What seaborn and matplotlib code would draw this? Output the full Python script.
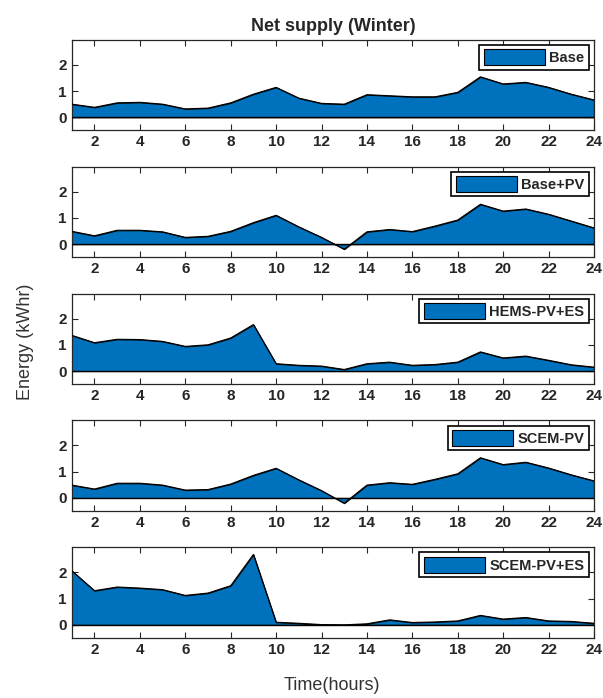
import numpy as np
import pandas as pd
import matplotlib
matplotlib.use("Agg")
import matplotlib.pyplot as plt
import seaborn as sns

# 時刻 (1..24h)
hours = list(range(1, 25))

# 各ケースの正味供給電力量 (kWhr), 図から読み取り
base = [0.50, 0.38, 0.55, 0.57, 0.50, 0.32, 0.35, 0.55, 0.88, 1.14, 0.73, 0.53,
        0.50, 0.86, 0.82, 0.78, 0.78, 0.95, 1.54, 1.27, 1.33, 1.14, 0.88, 0.66]
base_pv = [0.49, 0.32, 0.53, 0.53, 0.47, 0.26, 0.30, 0.49, 0.82, 1.10, 0.66, 0.26,
           -0.19, 0.47, 0.56, 0.48, 0.69, 0.92, 1.52, 1.26, 1.34, 1.14, 0.88, 0.62]
hems_pv_es = [1.36, 1.08, 1.21, 1.20, 1.13, 0.94, 1.00, 1.26, 1.77, 0.28, 0.22, 0.19,
              0.06, 0.28, 0.34, 0.22, 0.25, 0.34, 0.73, 0.50, 0.57, 0.41, 0.24, 0.15]
scem_pv = [0.49, 0.34, 0.56, 0.56, 0.49, 0.30, 0.32, 0.53, 0.86, 1.13, 0.69, 0.28,
           -0.20, 0.49, 0.58, 0.52, 0.71, 0.92, 1.53, 1.27, 1.36, 1.14, 0.88, 0.65]
scem_pv_es = [2.06, 1.30, 1.44, 1.40, 1.34, 1.12, 1.21, 1.49, 2.68, 0.10, 0.06, 0.01,
              0.00, 0.04, 0.19, 0.09, 0.11, 0.15, 0.36, 0.22, 0.28, 0.15, 0.13, 0.06]

cases = ["Base", "Base+PV", "HEMS-PV+ES", "SCEM-PV", "SCEM-PV+ES"]
series = [base, base_pv, hems_pv_es, scem_pv, scem_pv_es]

# long形式のDataFrame
df = pd.concat(
    [pd.DataFrame({"Hour": hours, "Energy": vals, "Case": name})
     for name, vals in zip(cases, series)],
    ignore_index=True,
)

sns.set_style("ticks")
plt.rcParams["font.family"] = ["Liberation Sans", "DejaVu Sans"]

fill_color = "#0072BD"

fig, axes = plt.subplots(5, 1, figsize=(6.03, 6.98), dpi=100)
fig.subplots_adjust(left=0.119, right=0.985, top=0.943, bottom=0.086, hspace=0.40)

for ax, name in zip(axes, cases):
    d = df[df["Case"] == name]
    ax.fill_between(d["Hour"], d["Energy"], 0, color=fill_color,
                    edgecolor="black", linewidth=0.8, label=name, zorder=2)
    sns.lineplot(data=d, x="Hour", y="Energy", color="black", linewidth=0.8,
                 ax=ax, legend=False, zorder=3)
    ax.axhline(0, color="black", linewidth=1.0, zorder=4)

    ax.set_xlim(1, 24)
    ax.set_ylim(-0.5, 2.95)
    ax.set_xticks(range(2, 25, 2))
    ax.set_yticks([0, 1, 2])
    ax.set_xlabel("")
    ax.set_ylabel("")
    ax.tick_params(direction="in", top=True, right=True, length=4, width=0.8,
                   colors="#262626", labelcolor="#262626")
    for lab in ax.get_xticklabels() + ax.get_yticklabels():
        lab.set_fontweight("bold")
        lab.set_fontsize(11)
    for sp in ax.spines.values():
        sp.set_visible(True)
        sp.set_linewidth(0.9)
        sp.set_color("#262626")

    leg = ax.legend(loc="upper right", handlelength=4.2, handleheight=1.3,
                    fancybox=False, frameon=True, borderpad=0.3,
                    borderaxespad=0.35, handletextpad=0.3,
                    prop={"weight": "bold", "size": 10.5})
    leg.get_frame().set_edgecolor("black")
    leg.get_frame().set_linewidth(1.2)
    leg.get_frame().set_alpha(1)

axes[0].set_title("Net supply (Winter)", fontsize=13, fontweight="bold", pad=6)
fig.text(0.042, 0.51, "Energy (kWhr)", rotation=90, ha="center", va="center",
         fontsize=13, color="#333333")
fig.text(0.55, 0.018, "Time(hours)", ha="center", va="center",
         fontsize=13, color="#333333")

plt.savefig("out.png", dpi=100)
plt.close()
